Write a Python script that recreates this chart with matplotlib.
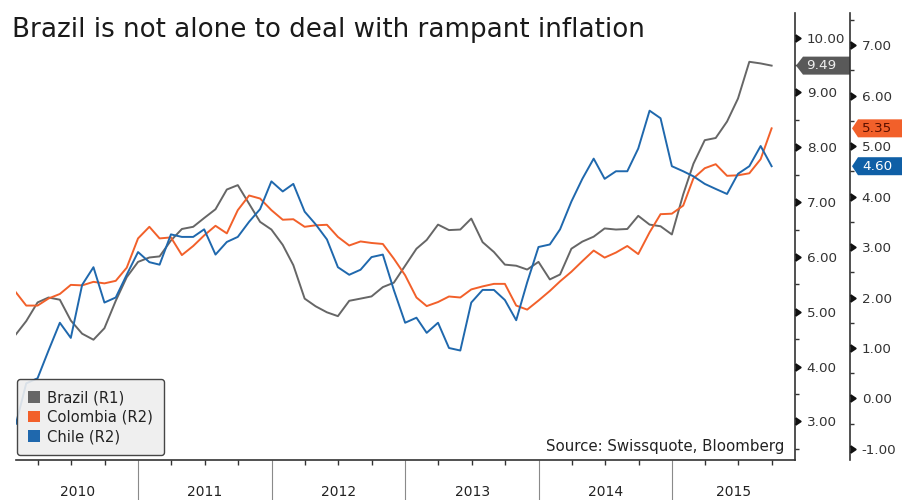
import numpy as np
import pandas as pd
import matplotlib
matplotlib.use('Agg')
import matplotlib.pyplot as plt
import matplotlib.dates as mdates
from matplotlib.patches import Patch
from matplotlib.path import Path
from matplotlib.ticker import MultipleLocator, FixedLocator, NullFormatter

# Monthly year-on-year CPI, Jan 2010 - Sep 2015
dates = pd.date_range('2010-01-31', periods=69, freq='ME')

brazil = [4.59, 4.83, 5.17, 5.26, 5.22, 4.84, 4.60, 4.49, 4.70, 5.20, 5.63, 5.91,
          5.99, 6.01, 6.30, 6.51, 6.55, 6.71, 6.87, 7.23, 7.31, 6.97, 6.64, 6.50,
          6.22, 5.85, 5.24, 5.10, 4.99, 4.92, 5.20, 5.24, 5.28, 5.45, 5.53, 5.84,
          6.15, 6.31, 6.59, 6.49, 6.50, 6.70, 6.27, 6.09, 5.86, 5.84, 5.77, 5.91,
          5.59, 5.68, 6.15, 6.28, 6.37, 6.52, 6.50, 6.51, 6.75, 6.59, 6.56, 6.41,
          7.14, 7.70, 8.13, 8.17, 8.47, 8.89, 9.56, 9.53, 9.49]

colombia = [2.10, 1.84, 1.84, 1.98, 2.07, 2.25, 2.24, 2.31, 2.28, 2.33, 2.59, 3.17,
            3.40, 3.17, 3.19, 2.84, 3.02, 3.23, 3.42, 3.27, 3.73, 4.02, 3.96, 3.73,
            3.54, 3.55, 3.40, 3.43, 3.44, 3.20, 3.03, 3.11, 3.08, 3.06, 2.77, 2.44,
            2.00, 1.83, 1.91, 2.02, 2.00, 2.16, 2.22, 2.27, 2.27, 1.84, 1.76, 1.94,
            2.13, 2.32, 2.51, 2.72, 2.93, 2.79, 2.89, 3.02, 2.86, 3.29, 3.65, 3.66,
            3.82, 4.36, 4.56, 4.64, 4.41, 4.42, 4.46, 4.74, 5.35]

chile = [-0.5, 0.3, 0.4, 0.95, 1.5, 1.2, 2.25, 2.6, 1.9, 2.0, 2.45, 2.9,
         2.7, 2.65, 3.25, 3.2, 3.2, 3.35, 2.85, 3.1, 3.2, 3.5, 3.75, 4.3,
         4.1, 4.25, 3.7, 3.45, 3.15, 2.6, 2.45, 2.55, 2.8, 2.85, 2.15, 1.5,
         1.6, 1.3, 1.5, 1.0, 0.95, 1.9, 2.15, 2.15, 1.95, 1.55, 2.3, 3.0,
         3.05, 3.35, 3.9, 4.35, 4.75, 4.35, 4.5, 4.5, 4.95, 5.7, 5.55, 4.6,
         4.5, 4.4, 4.25, 4.15, 4.05, 4.45, 4.6, 5.0, 4.6]

years = [2010, 2011, 2012, 2013, 2014, 2015]
r1_ticks = [3, 4, 5, 6, 7, 8, 9, 10]
r2_ticks = [-1, 0, 1, 2, 3, 4, 5, 6, 7]

c_brazil = '#666666'
c_colombia = '#f2602a'
c_chile = '#1f68ad'
axis_col = '#333333'
text_col = '#333333'

plt.rcParams['font.family'] = 'DejaVu Sans'

fig = plt.figure(figsize=(9.03, 5), dpi=100)
W, H = 903, 500
ax = fig.add_axes([16 / W, 40 / H, 779 / W, 447 / H])
ax2 = ax.twinx()
r2_pos = 834 / 779  # second value axis, in axes fraction

x0 = pd.Timestamp('2010-01-31')
x1 = pd.Timestamp('2015-12-03')

ax.plot(dates, brazil, color=c_brazil, lw=1.4)
ax2.plot(dates, colombia, color=c_colombia, lw=1.4)
ax2.plot(dates, chile, color=c_chile, lw=1.4)

ax.set_xlim(x0, x1)
ax.set_ylim(2.296, 10.45)
ax2.set_ylim(-1.218, 7.634)

# spines
for a in (ax, ax2):
    a.spines['top'].set_visible(False)
    a.spines['left'].set_visible(False)
ax2.spines['bottom'].set_visible(False)
ax.spines['bottom'].set_color(axis_col)
ax.spines['bottom'].set_linewidth(1.2)
ax.spines['right'].set_color(axis_col)
ax.spines['right'].set_linewidth(1.2)
ax2.spines['right'].set_position(('axes', r2_pos))
ax2.spines['right'].set_color(axis_col)
ax2.spines['right'].set_linewidth(1.2)

# right-hand value axes
ax.yaxis.tick_right()
ax.yaxis.set_major_locator(FixedLocator(r1_ticks))
ax.yaxis.set_minor_locator(MultipleLocator(0.5))
ax.set_yticklabels([f'{v:.2f}' for v in r1_ticks])
ax2.yaxis.set_major_locator(FixedLocator(r2_ticks))
ax2.yaxis.set_minor_locator(MultipleLocator(0.5))
ax2.set_yticklabels([f'{v:.2f}' for v in r2_ticks])
for a in (ax, ax2):
    a.tick_params(axis='y', which='major', length=0, pad=8.5,
                  labelsize=9.7, labelcolor=text_col)
    a.tick_params(axis='y', which='minor', length=3, width=1, color=axis_col)

# triangular major tick marks
ax.scatter([1.0] * len(r1_ticks), r1_ticks, marker=9, s=24, color='#111111',
           transform=ax.get_yaxis_transform(), clip_on=False, zorder=5)
ax2.scatter([r2_pos] * len(r2_ticks), r2_ticks, marker=9, s=24, color='#111111',
            transform=ax2.get_yaxis_transform(), clip_on=False, zorder=5)

# time axis: year separators + quarter ticks
ax.xaxis.set_major_locator(mdates.YearLocator())
ax.xaxis.set_minor_locator(mdates.MonthLocator(bymonth=[1, 4, 7, 10]))
ax.xaxis.set_major_formatter(NullFormatter())
ax.xaxis.set_minor_formatter(NullFormatter())
ax.tick_params(axis='x', which='major', length=29, width=0.8, color='#8a8a8a')
ax.tick_params(axis='x', which='minor', length=3.5, width=1, color=axis_col)

for y in years:
    start = max(pd.Timestamp(f'{y}-01-01'), x0)
    end = min(pd.Timestamp(f'{y + 1}-01-01'), x1)
    mid = start + (end - start) / 2
    ax.text(mid, -0.072, str(y), transform=ax.get_xaxis_transform(),
            ha='center', va='center', fontsize=10, color='#222222')


# value tags on the right axes
def make_tag(tip, left, total):
    def tag(x0, y0, width, height, mutation_scale):
        bx0 = x0 - left
        bx1 = bx0 + total
        yb = y0 - 2.5
        yt = y0 + height + 2.5
        ym = (yb + yt) / 2
        verts = [(bx0 - tip, ym), (bx0, yb), (bx1, yb), (bx1, yt), (bx0, yt), (bx0 - tip, ym)]
        return Path(verts, closed=True)
    return tag


ax.text((806 - 16) / 779, brazil[-1], f'{brazil[-1]:.2f}',
        transform=ax.get_yaxis_transform(), ha='left', va='center', fontsize=9.7,
        color='#eeeeee', clip_on=False, zorder=6,
        bbox=dict(boxstyle=make_tag(7, 3, 47), fc='#595959', ec='none'))
ax2.text((862 - 16) / 779, colombia[-1], f'{colombia[-1]:.2f}',
         transform=ax2.get_yaxis_transform(), ha='left', va='center', fontsize=9.7,
         color='#5a1000', clip_on=False, zorder=6,
         bbox=dict(boxstyle=make_tag(6, 4, 60), fc=c_colombia, ec='none'))
ax2.text((862 - 16) / 779, chile[-1], f'{chile[-1]:.2f}',
         transform=ax2.get_yaxis_transform(), ha='left', va='center', fontsize=9.7,
         color='white', clip_on=False, zorder=6,
         bbox=dict(boxstyle=make_tag(6, 4, 60), fc='#0f5fa6', ec='none'))

# legend
handles = [Patch(facecolor=c_brazil, label='Brazil (R1)'),
           Patch(facecolor=c_colombia, label='Colombia (R2)'),
           Patch(facecolor=c_chile, label='Chile (R2)')]
leg = ax2.legend(handles=handles, loc='lower left', bbox_to_anchor=(0.001, 0.011),
                 borderaxespad=0, fontsize=10.6, handlelength=0.85, handleheight=0.85,
                 handletextpad=0.45, labelspacing=0.3, borderpad=0.75,
                 fancybox=True, framealpha=0.9, facecolor='#eeeeee', edgecolor='#333333')
leg.get_frame().set_linewidth(1.0)
for t in leg.get_texts():
    t.set_color('#222222')

ax2.text(0.987, 0.031, 'Source: Swissquote, Bloomberg', transform=ax2.transAxes,
         ha='right', va='center', fontsize=10.8, color='#222222')

fig.text(12 / W, 1 - 30 / H, 'Brazil is not alone to deal with rampant inflation',
         ha='left', va='center', fontsize=18.8, color='#1a1a1a')

fig.savefig('out.png', dpi=100)
